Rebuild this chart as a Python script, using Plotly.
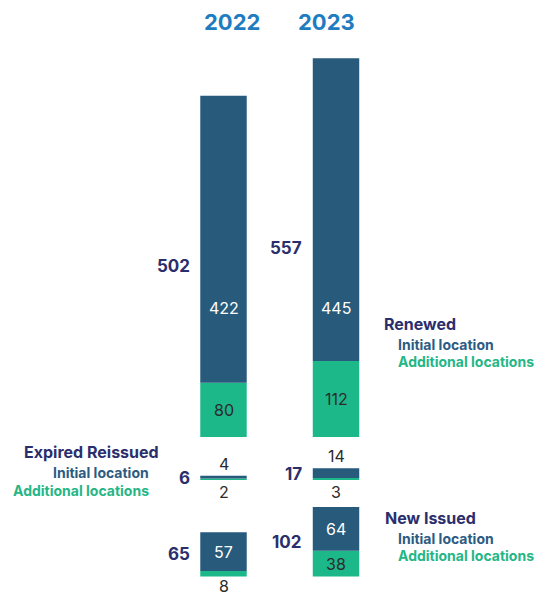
import plotly.graph_objects as go

# ---- data ----
years = ["2022", "2023"]
renewed_initial = [422, 445]
renewed_additional = [80, 112]
expired_initial = [4, 14]
expired_additional = [2, 3]
new_initial = [57, 64]
new_additional = [8, 38]

# ---- layout constants ----
W, H = 538, 593
BASE_NEW, BASE_EXP, BASE_REN = 0, 142, 205
Y_RANGE = [-24.3, 847.8]
X_RANGE = [-1.9867, 2.7956]
BAR_W = 0.413
DARK = "#275a7b"
GREEN = "#1db88a"
NAVY = "#2b2e6c"
INIT_TXT = "#2d5b82"
ADD_TXT = "#25b686"
YEAR_BLUE = "#1f7cc0"
NUM_DARK = "#2a2a2a"
FONT = "Inter"

fig = go.Figure()

groups = [
    (BASE_REN, renewed_additional, renewed_initial),
    (BASE_EXP, expired_additional, expired_initial),
    (BASE_NEW, new_additional, new_initial),
]
for base, add, ini in groups:
    fig.add_trace(go.Bar(x=years, y=add, base=[base] * len(years), width=BAR_W,
                         marker=dict(color=GREEN, line=dict(width=0)),
                         hoverinfo="skip", showlegend=False))
    fig.add_trace(go.Bar(x=years, y=ini, base=[base + a for a in add], width=BAR_W,
                         marker=dict(color=DARK, line=dict(width=0)),
                         hoverinfo="skip", showlegend=False))

ann = []

def num(xi, y, text, color, size=16, bold=False, xanchor="center", xshift=0, yshift=0):
    t = f"<b>{text}</b>" if bold else str(text)
    ann.append(dict(x=xi, y=y, xref="x", yref="y", text=t, showarrow=False,
                    xanchor=xanchor, yanchor="middle", xshift=xshift, yshift=yshift,
                    font=dict(family=FONT, size=size, color=color)))

for i, yr in enumerate(years):
    # totals
    for base, add, ini in groups:
        tot = add[i] + ini[i]
        num(i, base + tot / 2, tot, NAVY, size=17, bold=True, xanchor="right", xshift=-32)

    # renewed labels
    num(i, BASE_REN + 190, renewed_initial[i], "white")
    num(i, BASE_REN + renewed_additional[i] / 2, renewed_additional[i], NUM_DARK)
    # expired labels
    num(i, BASE_EXP + expired_additional[i] + expired_initial[i], expired_initial[i], NUM_DARK, yshift=12)
    num(i, BASE_EXP, expired_additional[i], NUM_DARK, yshift=-12)
    # new labels
    num(i, BASE_NEW + new_additional[i] + new_initial[i] / 2, new_initial[i], "white")
    if new_additional[i] >= 20:
        num(i, BASE_NEW + new_additional[i] / 2, new_additional[i], NUM_DARK)
    else:
        num(i, BASE_NEW, new_additional[i], NUM_DARK, yshift=-10)

def px_x(px):
    return px / W

def px_y(py):
    return 1 - py / H

# year headers
year_px = [232, 326]
for yr, px in zip(years, year_px):
    ann.append(dict(x=px_x(px), y=px_y(22), xref="paper", yref="paper", text=f"<b>{yr}</b>",
                    showarrow=False, xanchor="center", yanchor="middle",
                    font=dict(family=FONT, size=22, color=YEAR_BLUE)))

def lab(px, py, text, color, size, anchor):
    ann.append(dict(x=px_x(px), y=px_y(py), xref="paper", yref="paper", text=f"<b>{text}</b>",
                    showarrow=False, xanchor=anchor, yanchor="middle",
                    font=dict(family=FONT, size=size, color=color)))

# Renewed legend
lab(382, 324, "Renewed", NAVY, 16, "left")
lab(396, 344, "Initial location", INIT_TXT, 14, "left")
lab(396, 361, "Additional locations", ADD_TXT, 14, "left")
# Expired legend
lab(161, 452, "Expired Reissued", NAVY, 16, "right")
lab(151, 472, "Initial location", INIT_TXT, 14, "right")
lab(151, 490, "Additional locations", ADD_TXT, 14, "right")
# New legend
lab(383, 518, "New Issued", NAVY, 16, "left")
lab(396, 538, "Initial location", INIT_TXT, 14, "left")
lab(396, 555, "Additional locations", ADD_TXT, 14, "left")

fig.update_layout(
    width=W, height=H,
    margin=dict(l=0, r=0, t=0, b=0),
    paper_bgcolor="white", plot_bgcolor="white",
    barmode="overlay",
    xaxis=dict(range=X_RANGE, visible=False, type="category"),
    yaxis=dict(range=Y_RANGE, visible=False),
    annotations=ann,
    showlegend=False,
)

fig.write_html(
    "out.html",
    config={"displayModeBar": False, "staticPlot": True},
    post_script="document.body.style.margin='0';document.body.style.overflow='hidden';",
)
